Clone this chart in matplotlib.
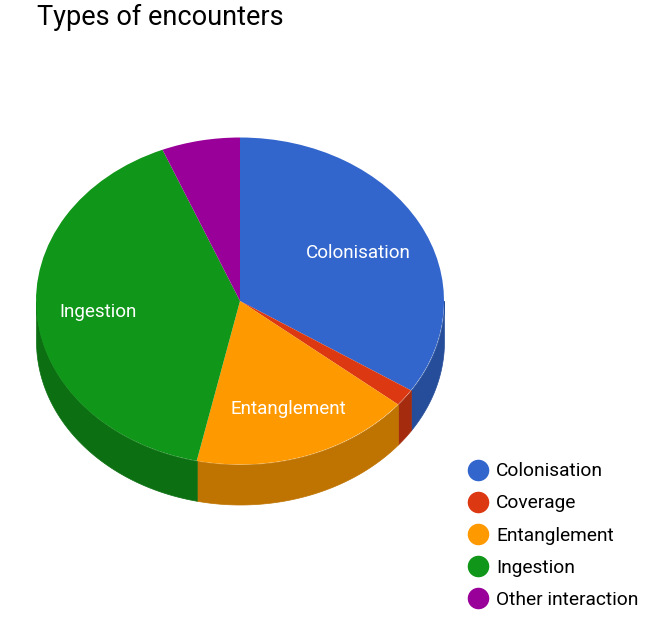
import numpy as np
import matplotlib
matplotlib.use("Agg")
import matplotlib.pyplot as plt
from matplotlib.lines import Line2D

plt.rcParams["font.family"] = "Roboto"

TITLE = "Types of encounters"
categories = ["Colonisation", "Coverage", "Entanglement", "Ingestion", "Other interaction"]
shares = [34.2, 1.7, 17.5, 40.4, 6.2]
top_colors = ["#3366cc", "#dc3912", "#ff9900", "#109618", "#990099"]
side_colors = ["#264d99", "#a52b0e", "#bf7300", "#0c7012", "#730073"]
labelled = ["Colonisation", "Entanglement", "Ingestion"]

W, H = 659, 631
CX, CY = 240, 301
RX, RY = 204, 163.5
DEPTH = 40 / RY

fig = plt.figure(figsize=(W / 100, H / 100), dpi=100)
ax = fig.add_axes([0, 0, 1, 1])

# side wall first, then the pie on top
edges = np.cumsum([0] + shares) / sum(shares) * 2 * np.pi
for a0, a1, col in zip(edges[:-1], edges[1:], side_colors):
    # only the front half of the rim is visible (clockwise from the top)
    lo, hi = max(a0, np.pi / 2), min(a1, 3 * np.pi / 2)
    if hi <= lo:
        continue
    t = np.linspace(lo, hi, 80)
    x, y = np.sin(t), np.cos(t)
    ax.fill_between(x, y, y - DEPTH, color=col, lw=0.5, zorder=1)

ax.pie(shares, colors=top_colors, startangle=90, counterclock=False, radius=1,
       wedgeprops={"linewidth": 0, "zorder": 2}, frame=True)

ax.set_aspect("auto")
ax.set_xlim(-CX / RX, (W - CX) / RX)
ax.set_ylim((CY - H) / RY, CY / RY)
ax.axis("off")

# data labels, placed as in the reference
label_pos = {"Colonisation": (0.58, 0.295), "Entanglement": (0.235, -0.66), "Ingestion": (-0.695, -0.07)}
for name in labelled:
    lx, ly = label_pos[name]
    ax.text(lx, ly, name, color="white", fontsize=13.6, ha="center", va="center", zorder=3)

fig.text(37 / W, 1 - 25 / H, TITLE, fontsize=19.5, color="black", ha="left", va="baseline")

handles = [Line2D([], [], ls="none", marker="o", ms=14.5, mfc=c, mec=c) for c in top_colors]
fig.legend(handles, categories, loc="lower left", bbox_to_anchor=(462 / W, 1 - 609 / H),
           frameon=False, fontsize=13.8, labelspacing=0.74, handletextpad=0.16,
           handlelength=1.62, borderpad=0, borderaxespad=0)

fig.savefig("out.png", dpi=100)
